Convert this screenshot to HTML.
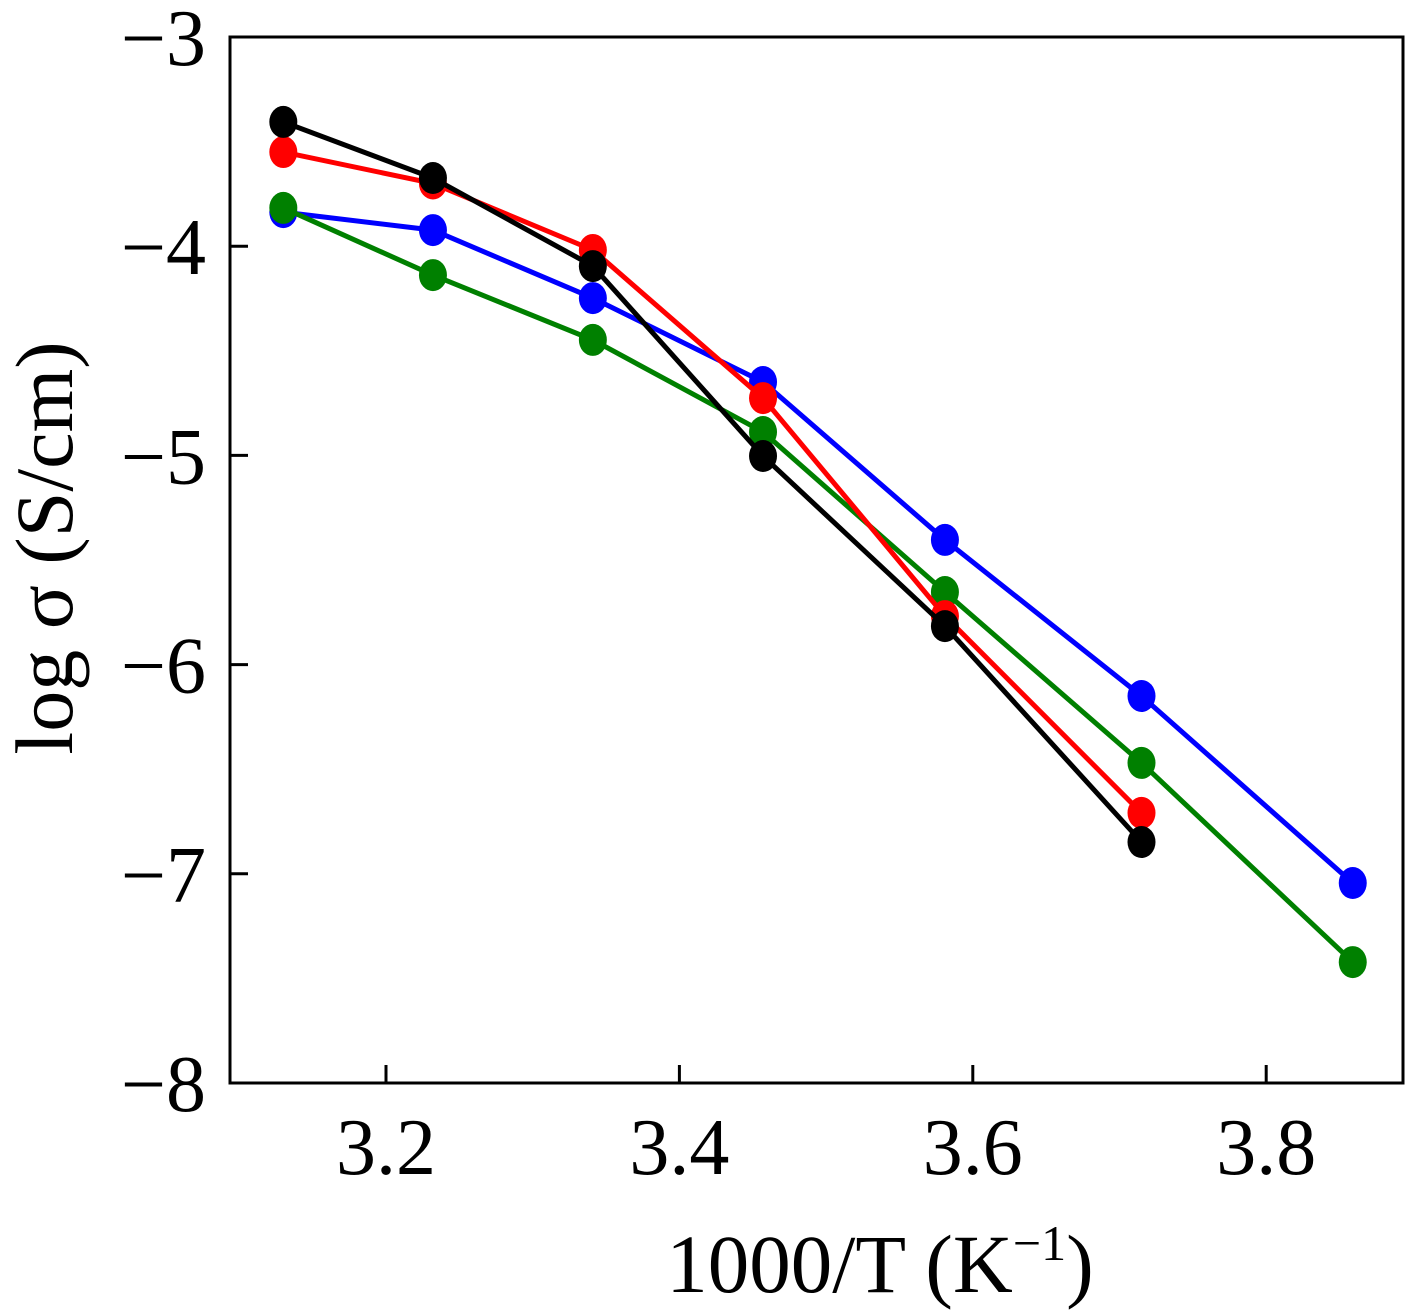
<!DOCTYPE html>
<html><head><meta charset="utf-8"><style>
html,body{margin:0;padding:0;background:#fff;}
svg{display:block;font-family:"Liberation Serif",serif;}
</style></head><body>
<svg id="chart" width="1419" height="1311" viewBox="0 0 1419 1311" xmlns="http://www.w3.org/2000/svg">
<rect x="230" y="37" width="1173" height="1046" fill="none" stroke="#000" stroke-width="3"/>
<g id="ticks"></g>
<g id="series"></g>
<text transform="translate(72,548) rotate(-90)" text-anchor="middle" font-size="82">log σ (S/cm)</text>
<text x="880" y="1292" text-anchor="middle" font-size="83">1000/T (K<tspan dy="-32" font-size="50">−1</tspan><tspan dy="32">)</tspan></text>
</svg>
<script>
const xTicks = [3.2, 3.4, 3.6, 3.8];
const xTickLabels = ["3.2", "3.4", "3.6", "3.8"];
const yTicks = [-3, -4, -5, -6, -7, -8];
const yTickLabels = ["−3", "−4", "−5", "−6", "−7", "−8"];
const xBlue = [3.130, 3.232, 3.341, 3.457, 3.581, 3.715, 3.859];
const yBlue = [-3.837, -3.923, -4.248, -4.649, -5.404, -6.150, -7.044];
const xGreen = [3.130, 3.232, 3.341, 3.457, 3.581, 3.715, 3.859];
const yGreen = [-3.817, -4.138, -4.448, -4.888, -5.653, -6.470, -7.422];
const xRed = [3.130, 3.232, 3.341, 3.457, 3.581, 3.715];
const yRed = [-3.55, -3.70, -4.018, -4.726, -5.768, -6.709];
const xBlack = [3.130, 3.232, 3.341, 3.457, 3.581, 3.715];
const yBlack = [-3.406, -3.674, -4.095, -5.003, -5.816, -6.848];

const NS = "http://www.w3.org/2000/svg";
function sx(v){ return 386 + (v - 3.2) * 1467; }
function sy(v){ return 37 + (-3 - v) * 209.2; }
const tg = document.getElementById('ticks');
xTicks.forEach((t, i) => {
  const l = document.createElementNS(NS, 'line');
  l.setAttribute('x1', sx(t)); l.setAttribute('x2', sx(t));
  l.setAttribute('y1', 1083); l.setAttribute('y2', 1065);
  l.setAttribute('stroke', '#000'); l.setAttribute('stroke-width', 3);
  
  
  tg.appendChild(l);
  const tx = document.createElementNS(NS, 'text');
  tx.setAttribute('x', sx(t)); tx.setAttribute('y', 1174);
  tx.setAttribute('text-anchor', 'middle'); tx.setAttribute('font-size', '80');
  tx.textContent = xTickLabels[i];
  
  
  tg.appendChild(tx);
});
yTicks.forEach((t, i) => {
  const l = document.createElementNS(NS, 'line');
  l.setAttribute('x1', 230); l.setAttribute('x2', 248);
  l.setAttribute('y1', sy(t)); l.setAttribute('y2', sy(t));
  l.setAttribute('stroke', '#000'); l.setAttribute('stroke-width', 3);
  
  
  tg.appendChild(l);
  const tx = document.createElementNS(NS, 'text');
  tx.setAttribute('x', 206); tx.setAttribute('y', sy(t) + 28);
  tx.setAttribute('text-anchor', 'end'); tx.setAttribute('font-size', '80');
  tx.textContent = yTickLabels[i];
  
  
  tg.appendChild(tx);
});
const sg = document.getElementById('series');
function drawSeries(xs, ys, color, name){
  const g = document.createElementNS(NS, 'g');
  
  
  const p = document.createElementNS(NS, 'polyline');
  p.setAttribute('points', xs.map((x, i) => sx(x) + ',' + sy(ys[i])).join(' '));
  p.setAttribute('fill', 'none'); p.setAttribute('stroke', color); p.setAttribute('stroke-width', 5);
  
  
  g.appendChild(p);
  xs.forEach((x, i) => {
    const c = document.createElementNS(NS, 'ellipse');
    c.setAttribute('cx', sx(x)); c.setAttribute('cy', sy(ys[i]));
    c.setAttribute('rx', 14); c.setAttribute('ry', 16); c.setAttribute('fill', color);
    
    
    g.appendChild(c);
  });
  sg.appendChild(g);
}
drawSeries(xBlue, yBlue, '#0000ff', 'blue');
drawSeries(xGreen, yGreen, '#008000', 'green');
drawSeries(xRed, yRed, '#ff0000', 'red');
drawSeries(xBlack, yBlack, '#000000', 'black');
</script>
</body></html>
